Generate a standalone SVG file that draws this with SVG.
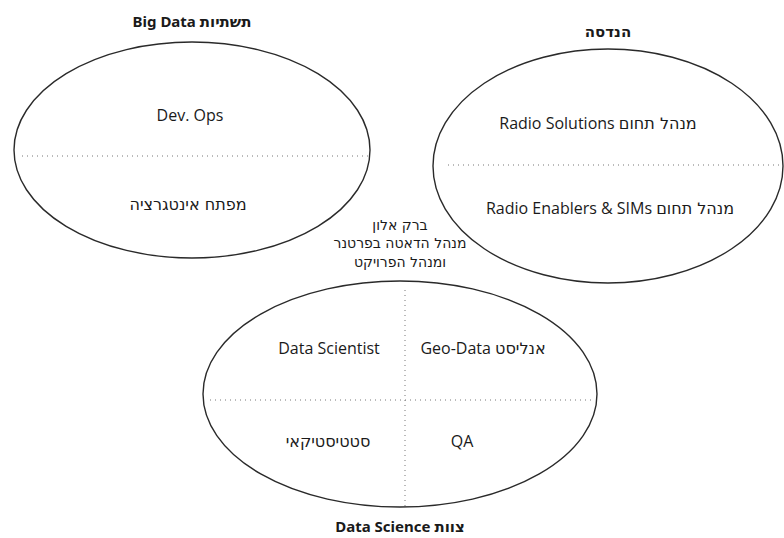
<svg xmlns="http://www.w3.org/2000/svg" width="784" height="538" viewBox="0 0 784 538">
<style>
text{font-family:"Open Sans","DejaVu Sans",sans-serif;font-size:16px;fill:#1a1a1a;text-anchor:middle}
.he{font-family:"DejaVu Sans",sans-serif}
.t{font-weight:bold;font-size:15px;font-family:"Noto Sans","DejaVu Sans",sans-serif}
.h{direction:rtl;unicode-bidi:embed}
.m{font-size:14px}
.ell{fill:none;stroke:#2a2a2a;stroke-width:1.4}
.dot{stroke:#777;stroke-width:1;stroke-dasharray:1 4;fill:none}
</style>
<rect width="784" height="538" fill="#fff"/>
<g id="infra">
<ellipse class="ell" cx="192" cy="150" rx="178" ry="108"/>
<line class="dot" x1="22" y1="156" x2="368" y2="156"/>
<text class="t h" x="192" y="27"><tspan class="he">תשתיות</tspan> Big Data</text>
<text x="190" y="121">Dev. Ops</text>
<text class="h he" x="188" y="210">מפתח אינטגרציה</text>
</g>
<g id="engineering">
<ellipse class="ell" cx="608" cy="166" rx="175" ry="117"/>
<line class="dot" x1="448" y1="165" x2="782" y2="165"/>
<text class="t h he" x="608" y="37">הנדסה</text>
<text class="h" x="598" y="129"><tspan class="he">מנהל תחום</tspan> Radio Solutions</text>
<text class="h" x="610" y="214"><tspan class="he">מנהל תחום</tspan> Radio Enablers &amp; SIMs</text>
</g>
<g id="manager">
<text class="h he m" x="400" y="230">ברק אלון</text>
<text class="h he m" x="400" y="248">מנהל הדאטה בפרטנר</text>
<text class="h he m" x="400" y="267">ומנהל הפרויקט</text>
</g>
<g id="datascience">
<ellipse class="ell" cx="400" cy="394" rx="197" ry="113"/>
<line class="dot" x1="210" y1="400" x2="592" y2="400"/>
<line class="dot" x1="405" y1="290" x2="405" y2="506"/>
<text class="t h" x="400" y="532"><tspan class="he">צוות</tspan> Data Science</text>
<text x="329" y="354">Data Scientist</text>
<text class="h" x="483" y="354"><tspan class="he">אנליסט</tspan> Geo-Data</text>
<text class="h he" x="328" y="447">סטטיסטיקאי</text>
<text x="462" y="447">QA</text>
</g>
<g id="connectors"></g>
</svg>
